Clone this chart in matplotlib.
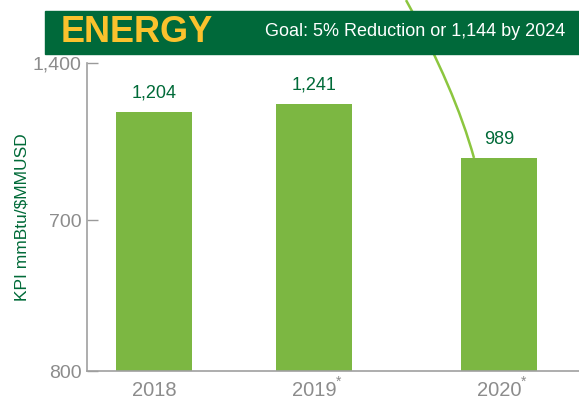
import matplotlib
matplotlib.use("Agg")
import matplotlib.pyplot as plt
from matplotlib.patches import Rectangle, PathPatch
from matplotlib.path import Path

# data
years = ["2018", "2019", "2020"]
marks = ["", "*", "*"]
kpi = [1204, 1241, 989]
value_labels = ["1,204", "1,241", "989"]
ytick_vals = [0, 700, 1430]
ytick_labels = ["800", "700", "1,400"]

# layout (pixel-like x scale)
xpos = [154, 314, 499]
bar_w = 76

plt.rcParams["font.family"] = ["Liberation Sans", "DejaVu Sans"]

bar_green = "#7cb742"
dark_green = "#006a38"
gray = "#8c8c8c"

fig = plt.figure(figsize=(5.79, 4.0), dpi=100)
ax = fig.add_axes([87 / 579, 29 / 400, 492 / 579, 308 / 400])

ax.bar(xpos, kpi, width=bar_w, color=bar_green, zorder=2)
for x, v, lab in zip(xpos, kpi, value_labels):
    ax.annotate(lab, (x, v), xytext=(0, 7), textcoords="offset points",
                ha="center", va="bottom", color=dark_green, fontsize=13)

ax.set_xlim(87, 579)
ax.set_ylim(0, 1430)
ax.set_yticks(ytick_vals)
ax.set_yticklabels(ytick_labels)
ax.set_xticks(xpos)
ax.set_xticklabels(years)
ax.tick_params(axis="y", direction="in", length=8, width=1, color="#9a9a9a",
               labelcolor=gray, labelsize=14, pad=4)
ax.tick_params(axis="x", length=0, labelcolor=gray, labelsize=14.5, pad=7)
for s in ["top", "right"]:
    ax.spines[s].set_visible(False)
for s in ["left", "bottom"]:
    ax.spines[s].set_color("#a0a0a0")
    ax.spines[s].set_linewidth(1.2)

for x, m in zip(xpos, marks):
    if m:
        ax.annotate(m, (x, 0), xytext=(16, -3), textcoords="offset points",
                    ha="left", va="top", color=gray, fontsize=10)

ax.set_ylabel("KPI mmBtu/$MMUSD", color=dark_green, fontsize=12.5)
ax.yaxis.set_label_coords(-0.116, 0.5)

# decorative pointer curve to the 2020 bar
curve = Path([(406, 1722), (455, 1309), (474, 989)],
             [Path.MOVETO, Path.CURVE3, Path.CURVE3])
ax.add_patch(PathPatch(curve, fill=False, edgecolor="#8cc63f", lw=1.8,
                       clip_on=False, zorder=3))

# title bar
fig.patches.append(Rectangle((45 / 579, 1 - 54 / 400), 534 / 579, 43 / 400,
                             transform=fig.transFigure, color="#00693a",
                             zorder=5))
fig.text(61 / 579, 1 - 33 / 400, "ENERGY", color="#fbc22d", fontsize=26,
         fontweight="bold", va="center", ha="left", zorder=6)
fig.text(565 / 579, 1 - 32 / 400, "Goal: 5% Reduction or 1,144 by 2024",
         color="white", fontsize=13, va="center", ha="right", zorder=6)

fig.savefig("out.png", dpi=100)
